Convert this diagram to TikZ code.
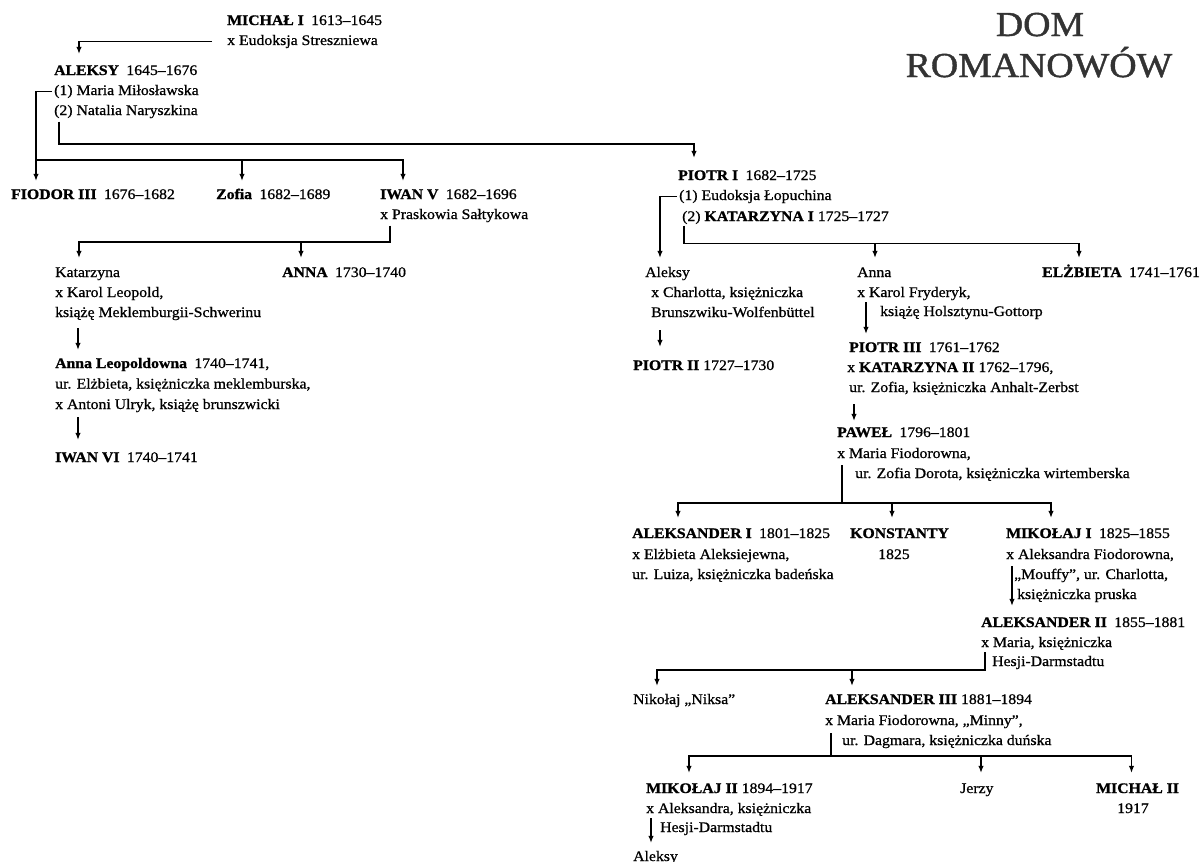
\documentclass[tikz,border=0pt]{standalone}
\usepackage{fontspec}
\setmainfont{Liberation Serif}[FakeStretch=1.08, UprightFeatures={FakeBold=0.8}, BoldFeatures={FakeBold=1}]
\newfontfamily\titlefamily{Liberation Serif}[FakeStretch=1.08, FakeBold=1.2]
\usetikzlibrary{arrows.meta}
\definecolor{titlegray}{HTML}{333333}
\newcommand\bodyfont{\fontsize{14.6}{20}\selectfont}
\newcommand\titlefont{\titlefamily\fontsize{35}{41}\selectfont}
\newcommand\gap{\hspace{0.5em}}
\begin{document}
\begin{tikzpicture}[x=1pt,y=-1pt,
  t/.style={anchor=base west, inner sep=0pt, text height=10.5pt, text depth=3.5pt, font=\bodyfont},
  ttl/.style={anchor=base, inner sep=0pt, font=\titlefont, text=titlegray},
  link/.style={line width=1.2pt},
  arr/.style={link, -{Latex[length=7pt,width=5.5pt]}}]
\fill[white] (0,0) rectangle (1203,862);
\useasboundingbox (0,0) rectangle (1203,862);

% title
\node[ttl] (title-1) at (1040,36) {DOM};
\node[ttl] (title-2) at (1039,77) {ROMANOWÓW};

% left branch
\node[t] (michal)   at (227,25) {\textbf{MICHAŁ I}\gap 1613–1645};
\node[t] (michal-2) at (227,45) {x Eudoksja Streszniewa};
\node[t] (aleksy)   at (54,75)  {\textbf{ALEKSY}\gap 1645–1676};
\node[t] (aleksy-1) at (54,95)  {(1) Maria Miłosławska};
\node[t] (aleksy-2) at (54,115) {(2) Natalia Naryszkina};
\node[t] (fiodor)   at (11,199) {\textbf{FIODOR III}\gap 1676–1682};
\node[t] (zofia)    at (216,199) {\textbf{Zofia}\gap 1682–1689};
\node[t] (iwan5)    at (380,199) {\textbf{IWAN V}\gap 1682–1696};
\node[t] (iwan5-2)  at (380,219) {x Praskowia Sałtykowa};
\node[t] (katarzyna)   at (55,277) {Katarzyna};
\node[t] (katarzyna-2) at (55,297) {x Karol Leopold,};
\node[t] (katarzyna-3) at (55,317) {książę Meklemburgii-Schwerinu};
\node[t] (annaL)   at (55,368)   {\textbf{Anna Leopoldowna}\gap 1740–1741,};
\node[t] (annaL-2) at (55,388.5) {ur. Elżbieta, księżniczka meklemburska,};
\node[t] (annaL-3) at (55,409)   {x Antoni Ulryk, książę brunszwicki};
\node[t] (iwan6)   at (55,462)   {\textbf{IWAN VI}\gap 1740–1741};
\node[t] (anna)    at (282,277)  {\textbf{ANNA}\gap 1730–1740};

% right branch
\node[t] (piotr1)   at (678,180) {\textbf{PIOTR I}\gap 1682–1725};
\node[t] (piotr1-1) at (679,200) {(1) Eudoksja Łopuchina};
\node[t] (piotr1-2) at (682,221) {(2) \textbf{KATARZYNA I} 1725–1727};
\node[t] (aleksyP)   at (645,277) {Aleksy};
\node[t] (aleksyP-2) at (651,297) {x Charlotta, księżniczka};
\node[t] (aleksyP-3) at (651,317) {Brunszwiku-Wolfenbüttel};
\node[t] (piotr2)    at (633,370) {\textbf{PIOTR II} 1727–1730};
\node[t] (annaP)   at (857,277) {Anna};
\node[t] (annaP-2) at (857,297) {x Karol Fryderyk,};
\node[t] (annaP-3) at (880,316) {książę Holsztynu-Gottorp};
\node[t] (elzbieta) at (1042,277) {\textbf{ELŻBIETA}\gap 1741–1761};
\node[t] (piotr3)   at (849,352) {\textbf{PIOTR III}\gap 1761–1762};
\node[t] (piotr3-2) at (847,372) {x \textbf{KATARZYNA II} 1762–1796,};
\node[t] (piotr3-3) at (849,392) {ur. Zofia, księżniczka Anhalt-Zerbst};
\node[t] (pawel)   at (837,437) {\textbf{PAWEŁ}\gap 1796–1801};
\node[t] (pawel-2) at (837,458) {x Maria Fiodorowna,};
\node[t] (pawel-3) at (855,478) {ur. Zofia Dorota, księżniczka wirtemberska};
\node[t] (aleks1)   at (632,538) {\textbf{ALEKSANDER I}\gap 1801–1825};
\node[t] (aleks1-2) at (632,559) {x Elżbieta Aleksiejewna,};
\node[t] (aleks1-3) at (632,579) {ur. Luiza, księżniczka badeńska};
\node[t] (konst)   at (850,538) {\textbf{KONSTANTY}};
\node[t] (konst-2) at (878,559) {1825};
\node[t] (mik1)   at (1006,538) {\textbf{MIKOŁAJ I}\gap 1825–1855};
\node[t] (mik1-2) at (1006,559) {x Aleksandra Fiodorowna,};
\node[t] (mik1-3) at (1014,579) {„Mouffy”, ur. Charlotta,};
\node[t] (mik1-4) at (1017,599) {księżniczka pruska};
\node[t] (aleks2)   at (981,627) {\textbf{ALEKSANDER II}\gap 1855–1881};
\node[t] (aleks2-2) at (981,647) {x Maria, księżniczka};
\node[t] (aleks2-3) at (992,666) {Hesji-Darmstadtu};
\node[t] (nikolaj)  at (633,704) {Nikołaj „Niksa”};
\node[t] (aleks3)   at (825,704) {\textbf{ALEKSANDER III} 1881–1894};
\node[t] (aleks3-2) at (825,725) {x Maria Fiodorowna, „Minny”,};
\node[t] (aleks3-3) at (842,745) {ur. Dagmara, księżniczka duńska};
\node[t] (mik2)   at (646,793) {\textbf{MIKOŁAJ II} 1894–1917};
\node[t] (mik2-2) at (646,813) {x Aleksandra, księżniczka};
\node[t] (mik2-3) at (660,832) {Hesji-Darmstadtu};
\node[t] (aleksyM) at (633,861) {Aleksy};
\node[t] (jerzy)   at (960,793) {Jerzy};
\node[t] (michal2)   at (1096,793) {\textbf{MICHAŁ II}};
\node[t] (michal2-2) at (1117,813) {1917};

% arrow tips above each child
\coordinate (tip-aleksy)    at ([xshift=25pt,yshift=10.5pt]aleksy.north west);
\coordinate (tip-fiodor)    at ([xshift=25pt,yshift=7.5pt]fiodor.north west);
\coordinate (tip-zofia)     at ([xshift=26pt,yshift=7.5pt]zofia.north west);
\coordinate (tip-iwan5)     at ([xshift=23pt,yshift=7.5pt]iwan5.north west);
\coordinate (tip-piotr1)    at ([xshift=16pt,yshift=11.5pt]piotr1.north west);
\coordinate (tip-katarzyna) at ([xshift=24pt,yshift=8.5pt]katarzyna.north west);
\coordinate (tip-anna)      at ([xshift=19pt,yshift=8.5pt]anna.north west);
\coordinate (tip-annaL)     at ([xshift=23pt,yshift=7.5pt]annaL.north west);
\coordinate (tip-iwan6)     at ([xshift=23pt,yshift=11.5pt]iwan6.north west);
\coordinate (tip-aleksyP)   at ([xshift=15pt,yshift=8.5pt]aleksyP.north west);
\coordinate (tip-annaP)     at ([xshift=18pt,yshift=8.5pt]annaP.north west);
\coordinate (tip-elzbieta)  at ([xshift=37pt,yshift=8.5pt]elzbieta.north west);
\coordinate (tip-piotr2)    at ([xshift=27pt,yshift=12.5pt]piotr2.north west);
\coordinate (tip-piotr3)    at ([xshift=17pt,yshift=7.5pt]piotr3.north west);
\coordinate (tip-pawel)     at ([xshift=17pt,yshift=5.5pt]pawel.north west);
\coordinate (tip-aleks1)    at ([xshift=46pt,yshift=9.5pt]aleks1.north west);
\coordinate (tip-konst)     at ([xshift=42pt,yshift=9.5pt]konst.north west);
\coordinate (tip-mik1)      at ([xshift=45pt,yshift=9.5pt]mik1.north west);
\coordinate (tip-aleks2)    at ([xshift=31pt,yshift=10.5pt]aleks2.north west);
\coordinate (tip-nikolaj)   at ([xshift=24pt,yshift=7.5pt]nikolaj.north west);
\coordinate (tip-aleks3)    at ([xshift=27pt,yshift=7.5pt]aleks3.north west);
\coordinate (tip-mik2)      at ([xshift=43pt,yshift=9.5pt]mik2.north west);
\coordinate (tip-jerzy)     at ([xshift=21pt,yshift=9.5pt]jerzy.north west);
\coordinate (tip-michal2)   at ([xshift=35.5pt,yshift=9.5pt]michal2.north west);
\coordinate (tip-aleksyM)   at ([xshift=18pt,yshift=7.5pt]aleksyM.north west);

% starting points below the parents
\coordinate (s-michal)     at ([xshift=-15pt]michal-2.west);
\coordinate (s-maria)      at ([xshift=-2pt]aleksy-1.west);
\coordinate (s-natalia)    at ([xshift=5pt,yshift=-3pt]aleksy-2.south west);
\coordinate (s-iwan5)      at ([xshift=10pt,yshift=-3pt]iwan5-2.south west);
\coordinate (s-katarzyna)  at ([xshift=23pt,yshift=-7.5pt]katarzyna-3.south west);
\coordinate (s-annaL)      at ([xshift=23pt,yshift=-4.5pt]annaL-3.south west);
\coordinate (s-eudoksja)   at ([xshift=-2pt]piotr1-1.west);
\coordinate (s-katarzyna1) at ([xshift=2pt,yshift=-1pt]piotr1-2.south west);
\coordinate (s-aleksyP)    at ([xshift=9pt,yshift=-9.5pt]aleksyP-3.south west);
\coordinate (s-annaP)      at ([xshift=9pt,yshift=-1.5pt]annaP-2.south west);
\coordinate (s-piotr3)     at ([xshift=5pt,yshift=-8.5pt]piotr3-3.south west);
\coordinate (s-pawel)      at ([xshift=5pt,yshift=-3.5pt]pawel-2.south west);
\coordinate (s-mik1)       at ([xshift=6pt,yshift=-3.5pt]mik1-2.south west);
\coordinate (s-aleks2)     at ([xshift=4pt,yshift=-1.5pt]aleks2-2.south west);
\coordinate (s-aleks3)     at ([xshift=6pt,yshift=-4.5pt]aleks3-2.south west);
\coordinate (s-mik2)       at ([xshift=5pt,yshift=-1.5pt]mik2-2.south west);

% levels of the horizontal bars
\coordinate (bar-maria)   at (0,160);
\coordinate (bar-natalia) at (0,144);
\coordinate (bar-iwan5)   at (0,242);
\coordinate (bar-piotr1)  at (0,243.5);
\coordinate (bar-pawel)   at (0,503);
\coordinate (bar-aleks2)  at (0,670);
\coordinate (bar-aleks3)  at (0,756);

% connectors
\draw[arr] (s-michal) -| (tip-aleksy);

\draw[arr] (s-maria) -| (tip-fiodor);
\draw[arr] (tip-fiodor |- bar-maria) -| (tip-zofia);
\draw[arr] (tip-zofia |- bar-maria) -| (tip-iwan5);

\draw[arr] (s-natalia) -- (s-natalia |- bar-natalia) -| (tip-piotr1);

\draw[arr] (s-iwan5) |- (tip-katarzyna |- bar-iwan5) -- (tip-katarzyna);
\draw[arr] (tip-anna |- bar-iwan5) -- (tip-anna);
\draw[arr] (s-katarzyna) -- (tip-annaL);
\draw[arr] (s-annaL) -- (tip-iwan6);

\draw[arr] (s-eudoksja) -| (tip-aleksyP);
\draw[arr] (s-katarzyna1) |- (tip-elzbieta |- bar-piotr1) -- (tip-elzbieta);
\draw[arr] (tip-annaP |- bar-piotr1) -- (tip-annaP);
\draw[arr] (s-aleksyP) -- (tip-piotr2);
\draw[arr] (s-annaP) -- (tip-piotr3);
\draw[arr] (s-piotr3) -- (tip-pawel);

\draw[link] (s-pawel) -- (s-pawel |- bar-pawel);
\draw[arr] (s-pawel |- bar-pawel) -| (tip-aleks1);
\draw[arr] (s-pawel |- bar-pawel) -| (tip-mik1);
\draw[arr] (tip-konst |- bar-pawel) -- (tip-konst);

\draw[arr] (s-mik1) -- (tip-aleks2);

\draw[arr] (s-aleks2) |- (tip-nikolaj |- bar-aleks2) -- (tip-nikolaj);
\draw[arr] (tip-aleks3 |- bar-aleks2) -- (tip-aleks3);

\draw[link] (s-aleks3) -- (s-aleks3 |- bar-aleks3);
\draw[arr] (s-aleks3 |- bar-aleks3) -| (tip-mik2);
\draw[arr] (s-aleks3 |- bar-aleks3) -| (tip-michal2);
\draw[arr] (tip-jerzy |- bar-aleks3) -- (tip-jerzy);

\draw[arr] (s-mik2) -- (tip-aleksyM);
\end{tikzpicture}
\end{document}
